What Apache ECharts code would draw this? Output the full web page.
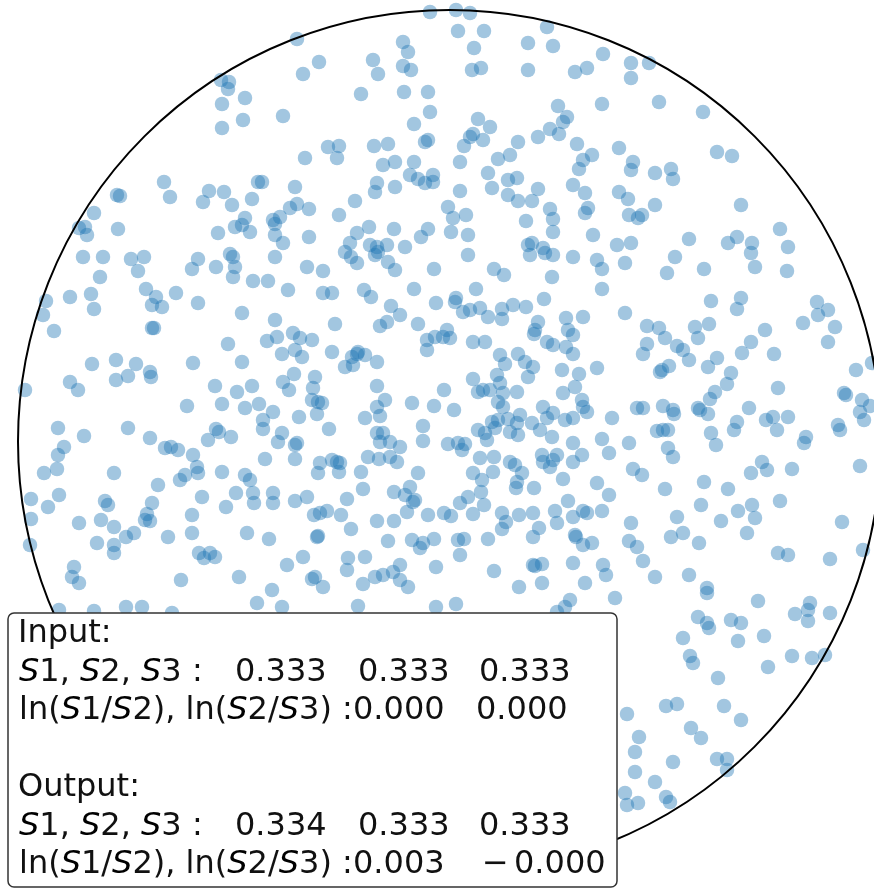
<!DOCTYPE html>
<html><head><meta charset="utf-8">
<script src="https://cdn.jsdelivr.net/npm/echarts@6/dist/echarts.min.js"></script>
<style>html,body{margin:0;padding:0;background:#fff}#c{width:874px;height:889px}</style>
</head><body><div id="c"></div>
<script>
// Point positions in disk units (origin at disk centre, y up, disk radius = 432)
const ptsUpperLeft = [[-228,361],[-220,359],[-221,352],[-227,337],[-204,343],[-206,321],[-227,313],[-166,325],[-285,259],[-279,244],[-332,246],[-329,245],[-355,228],[-240,250],[-246,239],[-225,249],[-217,236],[-197,242],[-191,259],[-187,259],[-159,233],[-169,224],[-176,221],[-174,217],[-204,223]];
const ptsUpperMid = [[-19,429],[7,431],[21,428],[9,410],[35,410],[25,393],[23,371],[32,373],[98,414],[79,398],[104,395],[79,371],[126,369],[138,373],[-152,402],[-146,367],[-130,379],[-76,381],[-71,367],[-46,399],[-41,389],[-46,375],[-38,371],[-88,347],[-45,349],[-21,349],[-19,329],[-35,317],[-144,283],[-121,294],[-110,295],[-112,283],[-75,295],[-61,297],[-66,276],[-54,279],[-35,279],[-24,299],[-21,301],[-39,266],[-31,262],[-24,258],[-16,266],[-16,259],[-72,258],[-74,249],[-54,254],[-154,254],[-152,237],[-140,232],[-94,240],[-110,226],[11,279],[15,295],[29,322],[41,314],[24,307],[34,301],[21,304],[69,299],[89,304],[49,282],[61,286],[39,268],[43,253],[59,261],[68,263],[59,246],[69,240],[83,240],[89,252],[11,250],[-1,234],[4,223],[17,226],[77,220],[101,232],[104,222],[109,335],[118,324],[114,319],[101,312],[110,307],[128,297],[124,256],[136,248],[130,272],[134,281],[136,228]];
const ptsUpperRight = [[154,387],[182,378],[200,378],[182,363],[153,337],[210,339],[254,329],[170,293],[143,286],[184,279],[182,271],[206,268],[222,272],[224,262],[268,289],[283,285],[170,249],[179,242],[206,236],[139,233],[180,226],[189,223],[193,226],[292,236]];
const ptsMiddleLeft = [[-364,214],[-362,206],[-370,213],[-331,212],[-231,208],[-214,214],[-207,216],[-199,209],[-174,206],[-166,198],[-366,184],[-346,184],[-318,182],[-305,184],[-311,170],[-349,164],[-251,182],[-257,172],[-233,174],[-219,187],[-216,184],[-214,174],[-216,164],[-174,184],[-196,160],[-181,160],[-161,151],[-403,140],[-406,126],[-379,144],[-358,147],[-355,132],[-303,152],[-293,144],[-297,136],[-287,134],[-273,148],[-251,138],[-207,128],[-395,110],[-297,113],[-295,113],[-174,121],[-172,104],[-182,100],[-167,87],[-221,97],[-207,79],[-256,78],[-357,77],[-333,81],[-313,77],[-321,65],[-333,61],[-299,69],[-298,64],[-379,59],[-371,51],[-424,51],[-234,55],[-212,49],[-197,55],[-166,59],[-160,51],[-262,35],[-227,37],[-204,33],[-190,37],[-176,29],[-186,21],[-186,12],[-391,13],[-365,5],[-321,13],[-299,3],[-233,12],[-230,9],[-241,1],[-218,4],[-167,8],[-171,-1]];
const ptsMiddle = [[-140,204],[-80,214],[-92,208],[-99,198],[-104,189],[-98,184],[-92,178],[-79,196],[-72,194],[-62,196],[-74,186],[-71,189],[-44,194],[-55,212],[-28,204],[-21,212],[2,209],[19,206],[19,186],[-61,179],[-54,171],[-142,174],[-126,170],[-15,172],[-126,148],[-117,148],[-85,151],[-78,144],[-35,152],[-58,135],[-49,126],[-69,115],[-62,119],[-114,117],[-31,117],[-13,138],[6,139],[7,143],[14,129],[21,131],[31,133],[39,124],[27,152],[53,132],[53,122],[64,136],[77,134],[45,172],[55,166],[79,196],[81,186],[83,198],[94,193],[96,188],[104,186],[104,209],[124,184],[103,164],[95,142],[134,124],[117,123],[119,111],[124,106],[89,119],[86,111],[85,107],[98,99],[104,96],[117,94],[124,87],[-156,108],[-149,103],[-137,101],[-154,91],[-147,84],[-117,89],[-104,74],[-97,84],[-91,89],[-92,87],[-84,86],[-96,76],[-72,79],[-22,101],[-22,91],[-14,104],[-2,111],[1,103],[-6,104],[24,99],[36,99],[-155,67],[-134,64],[-136,53],[-137,41],[-131,39],[-127,38],[-132,27],[-72,55],[-64,41],[-72,34],[-69,25],[-84,23],[-150,24],[-120,12],[-37,38],[-15,35],[-5,51],[5,31],[-26,15],[-26,0],[-72,8],[-66,8],[-69,-1],[-59,-1],[-49,-6],[-152,-2],[-1,-3],[9,-2],[16,-3],[24,62],[29,49],[34,51],[41,51],[51,86],[56,77],[48,66],[51,58],[54,48],[49,39],[69,87],[76,79],[84,74],[79,64],[68,49],[54,34],[59,22],[49,21],[43,19],[46,13],[29,11],[36,8],[38,1],[61,9],[69,6],[71,26],[68,18],[83,18],[91,11],[103,4],[113,71],[130,67],[126,54],[114,48],[133,41],[134,34],[138,29],[94,34],[104,28],[98,23],[116,21],[124,23],[124,-2]];
const ptsMiddleRight = [[144,206],[168,196],[182,198],[240,202],[279,198],[288,204],[303,198],[302,188],[306,174],[331,212],[339,194],[338,170],[226,184],[218,168],[255,172],[176,178],[148,181],[153,172],[153,152],[176,128],[262,140],[292,143],[288,132],[198,115],[210,113],[216,103],[198,97],[194,87],[228,95],[234,91],[240,81],[246,114],[260,117],[249,103],[316,111],[302,99],[293,88],[325,87],[368,139],[379,131],[369,126],[386,114],[354,118],[379,99],[148,73],[220,75],[213,71],[211,69],[268,83],[259,74],[282,68],[278,57],[266,49],[261,42],[329,53],[407,71],[423,78],[163,23],[188,33],[194,33],[214,35],[224,31],[225,27],[249,33],[251,31],[259,27],[300,33],[317,21],[324,24],[328,11],[339,24],[395,48],[397,46],[413,41],[421,35],[411,29],[415,21],[389,16],[391,11],[357,4],[355,-2],[208,10],[214,11],[219,11],[180,-2],[153,2],[262,8],[267,-4],[288,19],[285,11]];
const ptsLowerLeft = [[-385,-6],[-391,-14],[-405,-32],[-392,-28],[-335,-32],[-418,-58],[-390,-54],[-401,-66],[-418,-78],[-419,-104],[-344,-60],[-341,-64],[-370,-82],[-348,-79],[-335,-86],[-352,-102],[-335,-104],[-335,-112],[-323,-96],[-315,-92],[-297,-62],[-302,-73],[-299,-80],[-304,-79],[-291,-44],[-284,-7],[-278,-6],[-271,-9],[-256,-14],[-252,-26],[-251,-32],[-269,-39],[-264,-34],[-227,-31],[-247,-56],[-257,-74],[-257,-92],[-281,-96],[-250,-112],[-245,-117],[-239,-112],[-234,-116],[-375,-126],[-377,-136],[-370,-142],[-268,-139],[-223,-66],[-213,-52],[-204,-34],[-199,-39],[-196,-52],[-195,-62],[-176,-52],[-176,-62],[-184,-18],[-202,-92],[-180,-98],[-162,-124],[-210,-136],[-177,-149],[-192,-162],[-167,-166],[-390,-169],[-355,-170],[-323,-166],[-307,-166],[-277,-172]];
const ptsLowerMid = [[-154,-4],[-154,-18],[-154,-60],[-142,-56],[-146,-116],[-129,-22],[-131,-32],[-117,-19],[-112,-21],[-109,-22],[-110,-31],[-88,-31],[-81,-16],[-70,-18],[-59,-16],[-52,-21],[13,-9],[-86,-48],[-102,-58],[-55,-51],[-44,-54],[-39,-46],[-34,-59],[-36,-61],[-42,-71],[-31,-32],[-135,-74],[-129,-72],[-122,-70],[-108,-74],[-98,-88],[-131,-95],[-132,-96],[-72,-80],[-55,-80],[-61,-100],[-21,-74],[-5,-72],[2,-75],[24,-73],[11,-62],[19,-56],[35,-64],[32,-51],[24,-32],[33,-39],[44,-31],[45,-16],[31,-17],[61,-21],[66,-24],[73,-32],[68,-41],[67,-47],[85,-47],[93,-14],[94,-21],[101,-26],[108,-14],[104,-19],[124,-21],[133,-14],[114,-38],[119,-60],[134,-70],[138,-72],[106,-70],[108,-82],[124,-76],[53,-72],[57,-81],[53,-88],[70,-74],[84,-72],[90,-87],[84,-96],[126,-94],[127,-96],[134,-104],[39,-98],[9,-99],[15,-98],[11,-114],[-15,-98],[-37,-99],[-29,-107],[-26,-102],[-13,-126],[-101,-117],[-102,-129],[-84,-116],[-74,-136],[-66,-134],[-56,-131],[-49,-124],[-49,-139],[-41,-146],[-86,-143],[-137,-138],[-134,-136],[-126,-146],[-91,-165],[-13,-166],[7,-163],[45,-130],[70,-146],[84,-124],[86,-125],[93,-123],[93,-142],[124,-122],[136,-142],[121,-159],[116,-166],[108,-171]];
const ptsLowerRight = [[219,-7],[224,-16],[411,-25],[160,-12],[184,-28],[193,-34],[148,-42],[160,-54],[216,-48],[255,-41],[279,-48],[302,-32],[313,-21],[318,-29],[343,-28],[331,-60],[303,-64],[289,-70],[306,-77],[252,-64],[272,-80],[298,-92],[228,-76],[222,-96],[234,-92],[250,-102],[182,-82],[153,-70],[143,-102],[180,-100],[188,-106],[194,-120],[154,-124],[157,-134],[206,-136],[166,-157],[240,-134],[258,-147],[258,-152],[249,-176],[258,-182],[260,-187],[234,-197],[241,-215],[244,-222],[309,-160],[329,-112],[339,-114],[381,-118],[414,-109],[393,-81],[346,-173],[361,-162],[359,-169],[359,-180],[381,-172],[282,-179],[292,-182],[289,-200],[315,-195],[343,-215],[363,-217],[376,-214],[319,-226]];
const ptsBottomRight = [[269,-237],[178,-273],[217,-265],[228,-263],[275,-265],[292,-279],[242,-287],[252,-297],[190,-296],[186,-311],[224,-321],[268,-318],[278,-318],[278,-329],[186,-331],[206,-341],[176,-352],[178,-364],[189,-362],[217,-356],[221,-361]];

const diskRadius = 432;
const inputLabel = 'Input:';
const outputLabel = 'Output:';
const inputShares = ['0.333', '0.333', '0.333'];
const inputLogRatios = ['0.000', '0.000'];
const outputShares = ['0.334', '0.333', '0.333'];
const outputLogRatios = ['0.003', '\u22120.000'];

const allPoints = [].concat(ptsUpperLeft, ptsUpperMid, ptsUpperRight, ptsMiddleLeft, ptsMiddle,
  ptsMiddleRight, ptsLowerLeft, ptsLowerMid, ptsLowerRight, ptsBottomRight);

const chart = echarts.init(document.getElementById('c'), null, {renderer: 'canvas'});
chart.setOption({
  animation: false,
  grid: {left: 0, right: 0, top: 0, bottom: 0},
  xAxis: {type: 'value', min: -449, max: 425, show: false},
  yAxis: {type: 'value', min: -448, max: 441, show: false},
  series: [{
    type: 'scatter', data: allPoints, symbolSize: 14.5, silent: true,
    itemStyle: {color: 'rgba(31,119,180,0.52)'}
  }]
});

const c0 = chart.convertToPixel({gridIndex: 0}, [0, 0]);
const c1 = chart.convertToPixel({gridIndex: 0}, [diskRadius, 0]);
const rPix = c1[0] - c0[0];

const FONT = 'DejaVu Sans';
const FS = 32;
const rich = {i: {fontStyle: 'italic', fontFamily: FONT, fontSize: FS, fill: '#000'}};
function txt(x, y, text) {
  return {type: 'text', x: x, y: y, z: 120, silent: true,
    style: {text: text, fontFamily: FONT, fontSize: FS, fill: '#111', verticalAlign: 'middle', align: 'left', rich: rich}};
}
const lineY = [634, 673, 711, 788, 827, 865];
const shareX = [235, 358, 479];
const logX = [353, 476];
const els = [
  {type: 'circle', z: 100, silent: true, shape: {cx: c0[0] + 0.5, cy: c0[1] + 0.5, r: rPix - 0.5},
    style: {fill: 'none', stroke: '#000', lineWidth: 2}},
  {type: 'rect', z: 110, silent: true, shape: {x: 8, y: 613, width: 609, height: 274, r: 6},
    style: {fill: '#fff', stroke: '#333', lineWidth: 1.5}},
  txt(18, lineY[0], inputLabel),
  txt(19, lineY[1], '{i|S}1, {i|S}2, {i|S}3 :'),
  txt(19, lineY[2], 'ln({i|S}1/{i|S}2), ln({i|S}2/{i|S}3) :'),
  txt(18, lineY[3], outputLabel),
  txt(19, lineY[4], '{i|S}1, {i|S}2, {i|S}3 :'),
  txt(19, lineY[5], 'ln({i|S}1/{i|S}2), ln({i|S}2/{i|S}3) :')
];
inputShares.forEach((v, k) => els.push(txt(shareX[k], lineY[1], v)));
inputLogRatios.forEach((v, k) => els.push(txt(logX[k], lineY[2], v)));
outputShares.forEach((v, k) => els.push(txt(shareX[k], lineY[4], v)));
els.push(txt(logX[0], lineY[5], outputLogRatios[0]));
els.push(txt(482, lineY[5], outputLogRatios[1].charAt(0)));
els.push(txt(514, lineY[5], outputLogRatios[1].slice(1)));
chart.setOption({graphic: {elements: els}});
</script>
</body></html>
